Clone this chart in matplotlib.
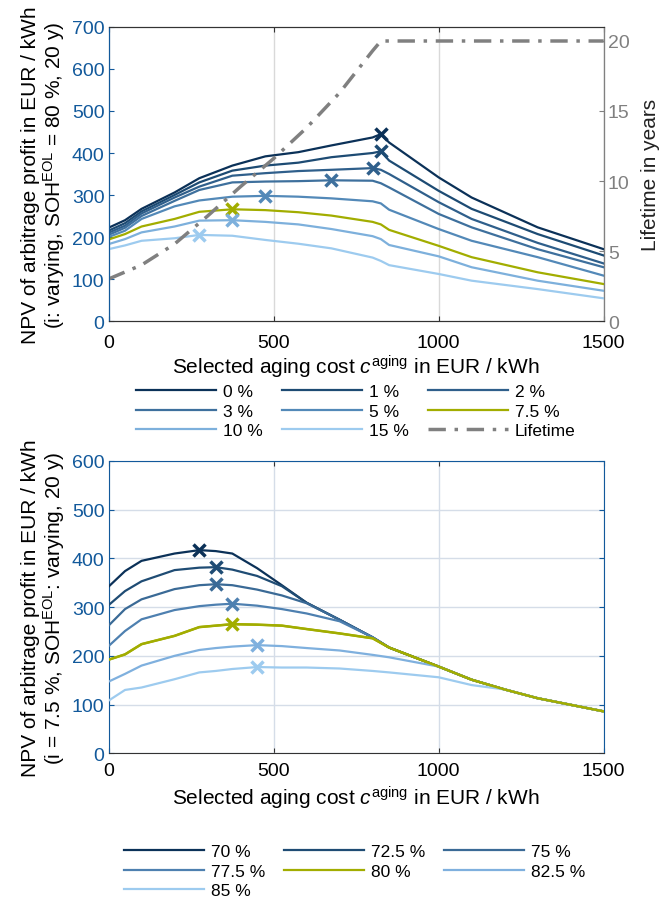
import matplotlib.pyplot as plt
import numpy as np

plt.rcParams['font.family'] = ['Liberation Sans', 'DejaVu Sans']
plt.rcParams['mathtext.fontset'] = 'custom'
plt.rcParams['mathtext.rm'] = 'Liberation Sans'
plt.rcParams['mathtext.it'] = 'Liberation Sans:italic'
plt.rcParams['font.size'] = 14

#%% Data - top: varying interest rate
cost_top = [0, 50, 100, 200, 275, 375, 475, 575, 675, 800, 825, 850, 1000, 1100, 1300, 1500]
rate_labels = ['0 %', '1 %', '2 %', '3 %', '5 %', '7.5 %', '10 %', '15 %']
npv_0 = [222, 240, 267, 306, 340, 370, 392, 402, 418, 437, 445, 425, 342, 294, 223, 171]
npv_1 = [215, 233, 261, 300, 330, 358, 370, 377, 390, 400, 404, 382, 310, 267, 207, 156]
npv_2 = [210, 227, 256, 294, 320, 346, 352, 357, 360, 364, 360, 350, 283, 243, 186, 137]
npv_3 = [205, 222, 250, 286, 312, 330, 332, 333, 335, 334, 328, 318, 255, 223, 171, 128]
npv_5 = [200, 215, 243, 273, 287, 296, 298, 296, 292, 285, 280, 265, 219, 191, 152, 108]
npv_7_5 = [194, 207, 225, 243, 260, 266, 264, 259, 251, 236, 230, 217, 179, 152, 116, 88]
npv_10 = [183, 195, 211, 225, 239, 240, 236, 230, 219, 202, 195, 181, 154, 128, 96, 72]
npv_15 = [171, 180, 191, 197, 205, 203, 193, 184, 173, 151, 143, 133, 112, 96, 76, 54]
npv_top = [npv_0, npv_1, npv_2, npv_3, npv_5, npv_7_5, npv_10, npv_15]

cost_life = [0, 100, 200, 300, 400, 500, 600, 700, 800, 825, 1500]
lifetime = [3.0, 4.0, 5.5, 7.5, 9.6, 11.6, 13.8, 16.3, 19.3, 20, 20]

#%% Data - bottom: varying SOH EOL
cost_bot = [0, 50, 100, 200, 275, 325, 375, 450, 525, 600, 700, 800, 850, 1000, 1100, 1200, 1300, 1500]
soh_labels = ['70 %', '72.5 %', '75 %', '77.5 %', '80 %', '82.5 %', '85 %']
soh_70 = [342, 374, 395, 410, 417, 415, 410, 380, 345, 309, 274, 238, 217, 178, 151, 131, 113, 86]
soh_72_5 = [304, 333, 353, 376, 381, 382, 377, 364, 343, 309, 274, 238, 217, 178, 151, 131, 113, 86]
soh_75 = [262, 296, 316, 337, 345, 347, 345, 336, 324, 308, 274, 238, 217, 178, 151, 131, 113, 86]
soh_77_5 = [220, 251, 275, 294, 302, 305, 307, 303, 296, 287, 271, 238, 217, 178, 151, 131, 113, 86]
soh_80 = [192, 203, 224, 241, 259, 262, 265, 264, 262, 255, 246, 236, 217, 178, 151, 131, 113, 86]
soh_82_5 = [147, 163, 180, 200, 212, 216, 219, 222, 220, 216, 211, 202, 197, 178, 151, 131, 113, 86]
soh_85 = [108, 130, 135, 152, 166, 169, 173, 177, 176, 176, 174, 169, 166, 156, 140, 131, 113, 86]
npv_bot = [soh_70, soh_72_5, soh_75, soh_77_5, soh_80, soh_82_5, soh_85]

#%% Styles
c_top = ['#0b3158', '#1d4b73', '#2f5f8b', '#3e709d', '#5389b8', '#a2ad00', '#7db0dc', '#9dcbef']
c_bot = ['#0b3158', '#1f4c74', '#3a6a96', '#4e80b0', '#a2ad00', '#7fb0de', '#9dcbef']
blue = '#12599b'
gray = '#808080'
dark = '#333333'
xlab = 'Selected aging cost $\\mathit{c}^{\\mathrm{aging}}$ in EUR / kWh'
leg_kw = dict(ncol=3, loc='center', frameon=False, handlelength=4.6, handletextpad=0.4,
              columnspacing=1.1, labelspacing=0.25, fontsize=12.5)

fig = plt.figure(figsize=(6.7, 9.03), dpi=100)

#%% Top plot
ax = fig.add_axes([0.162, 0.6434, 0.739, 0.3256])
ax2 = ax.twinx()
handles = []
for y, c, lab in zip(npv_top, c_top, rate_labels):
    h, = ax.plot(cost_top, y, color=c, lw=1.6, label=lab, zorder=3)
    i = int(np.argmax(y))
    ax.plot(cost_top[i], y[i], 'x', color=c, ms=9, mew=2.5, zorder=4)
    handles.append(h)
hl, = ax2.plot(cost_life, lifetime, color=gray, lw=2.5, ls=(0, (5, 2.5, 1, 2.5)), label='Lifetime')
handles.append(hl)

ax.set_xlim(0, 1500)
ax.set_ylim(0, 700)
ax.set_xticks([0, 500, 1000, 1500])
ax.set_yticks(np.arange(0, 701, 100))
ax2.set_ylim(0, 21)
ax2.set_yticks([0, 5, 10, 15, 20])
ax.grid(axis='x', color='#d9d9d9', lw=1)
ax.tick_params(axis='y', direction='in', colors=blue, pad=3)
ax.tick_params(axis='x', direction='in', top=True, colors=dark, labelcolor='black', pad=9)
ax2.tick_params(axis='y', direction='in', colors=gray, pad=3)
ax.spines['left'].set_color(blue)
ax2.spines['left'].set_color(blue)
ax2.spines['right'].set_color(gray)
for s in ['top', 'bottom']:
    ax.spines[s].set_color(dark)
    ax2.spines[s].set_color(dark)
ax.set_ylabel('NPV of arbitrage profit in EUR / kWh\n(i: varying, SOH$^{\\mathrm{EOL}}$ = 80 %, 20 y)',
              fontsize=15, labelpad=3, linespacing=1.1)
ax2.set_ylabel('Lifetime in years', color='#222222', fontsize=15, labelpad=8)
ax.set_xlabel(xlab, fontsize=15, labelpad=2)

order = [0, 3, 6, 1, 4, 7, 2, 5, 8]
fig.legend([handles[k] for k in order], [handles[k].get_label() for k in order],
           bbox_to_anchor=(0.531, 0.5434), **leg_kw)

#%% Bottom plot
bx = fig.add_axes([0.162, 0.1647, 0.739, 0.3237])
bhandles = []
for y, c, lab in zip(npv_bot, c_bot, soh_labels):
    h, = bx.plot(cost_bot, y, color=c, lw=1.6, label=lab, zorder=3)
    i = int(np.argmax(y))
    bx.plot(cost_bot[i], y[i], 'x', color=c, ms=9, mew=2.5, zorder=4)
    bhandles.append(h)
# 80 % line drawn again on top, as in the reference
bx.plot(cost_bot, soh_80, color=c_bot[4], lw=1.8, zorder=3.5)

bx.set_xlim(0, 1500)
bx.set_ylim(0, 600)
bx.set_xticks([0, 500, 1000, 1500])
bx.set_yticks(np.arange(0, 601, 100))
bx.grid(color='#d5dde8', lw=1)
bx.tick_params(axis='y', direction='in', right=True, colors=blue, pad=3)
bx.tick_params(axis='x', direction='in', top=True, colors=dark, labelcolor='black', pad=6)
for s in ['left', 'right', 'top']:
    bx.spines[s].set_color(blue)
bx.spines['bottom'].set_color(dark)
bx.set_ylabel('NPV of arbitrage profit in EUR / kWh\n(i = 7.5 %, SOH$^{\\mathrm{EOL}}$: varying, 20 y)',
              fontsize=15, labelpad=3, linespacing=1.1)
bx.set_xlabel(xlab, fontsize=15, labelpad=4)

border = [0, 3, 6, 1, 4, 2, 5]
fig.legend([bhandles[k] for k in border], [bhandles[k].get_label() for k in border],
           bbox_to_anchor=(0.529, 0.0339), **leg_kw)

plt.savefig('out.png', dpi=100)
